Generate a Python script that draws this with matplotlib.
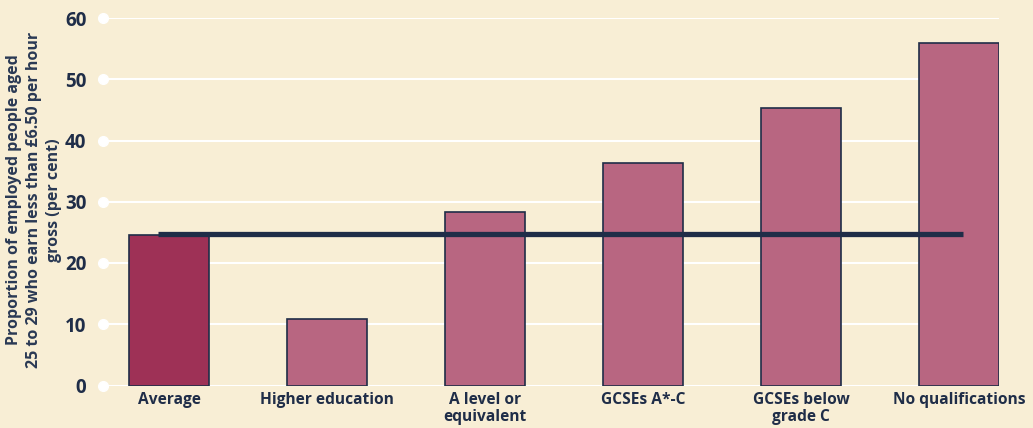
import matplotlib
matplotlib.use("Agg")
import matplotlib.pyplot as plt

categories = ["Average", "Higher education", "A level or\nequivalent", "GCSEs A*-C",
              "GCSEs below\ngrade C", "No qualifications"]
values = [24.5, 10.8, 28.4, 36.4, 45.3, 55.9]
average_value = 24.7
yticks = [0, 10, 20, 30, 40, 50, 60]

bg = "#F8EED5"
navy = "#1F2D48"
dark_bar = "#9E3156"
light_bar = "#B86681"

plt.rcParams['font.family'] = ['Open Sans', 'DejaVu Sans']

fig = plt.figure(figsize=(10.33, 4.28), dpi=100, facecolor=bg)
ax = fig.add_axes([103/1033, (428-385.5)/428, (999-103)/1033, (385.5-18)/428])
ax.set_facecolor(bg)

x = list(range(len(categories)))
colors = [dark_bar] + [light_bar] * (len(categories) - 1)
ax.bar(x, values, width=0.506, color=colors, edgecolor=navy, linewidth=1.2, zorder=3)
ax.plot([-0.07, 5.025], [average_value, average_value], color=navy, lw=3.8,
        solid_capstyle='butt', zorder=4)

ax.set_xlim(-0.418, 5.253)
ax.set_ylim(0, 60)
ax.set_yticks(yticks)
ax.yaxis.grid(True, color="white", lw=1.5, zorder=0)
ax.set_axisbelow(True)
for s in ax.spines.values():
    s.set_visible(False)
ax.plot([-0.418] * len(yticks), yticks, 'o', color="white", ms=7, clip_on=False, zorder=2)

ax.tick_params(axis='y', length=0, pad=12, labelsize=13.5, labelcolor=navy)
ax.tick_params(axis='x', length=0, pad=5, labelsize=11.2, labelcolor=navy)
for lab in ax.get_yticklabels():
    lab.set_fontweight('bold')
ax.set_xticks(x)
ax.set_xticklabels(categories, fontweight='bold', linespacing=1.05)

fig.text(34/1033, 1 - 200/428,
         "Proportion of employed people aged\n25 to 29 who earn less than £6.50 per hour\ngross (per cent)",
         rotation=90, ha='center', va='center', fontsize=11.5, fontweight='bold',
         color="#2A3954", linespacing=1.3)

fig.savefig("out.png", dpi=100, facecolor=bg)
